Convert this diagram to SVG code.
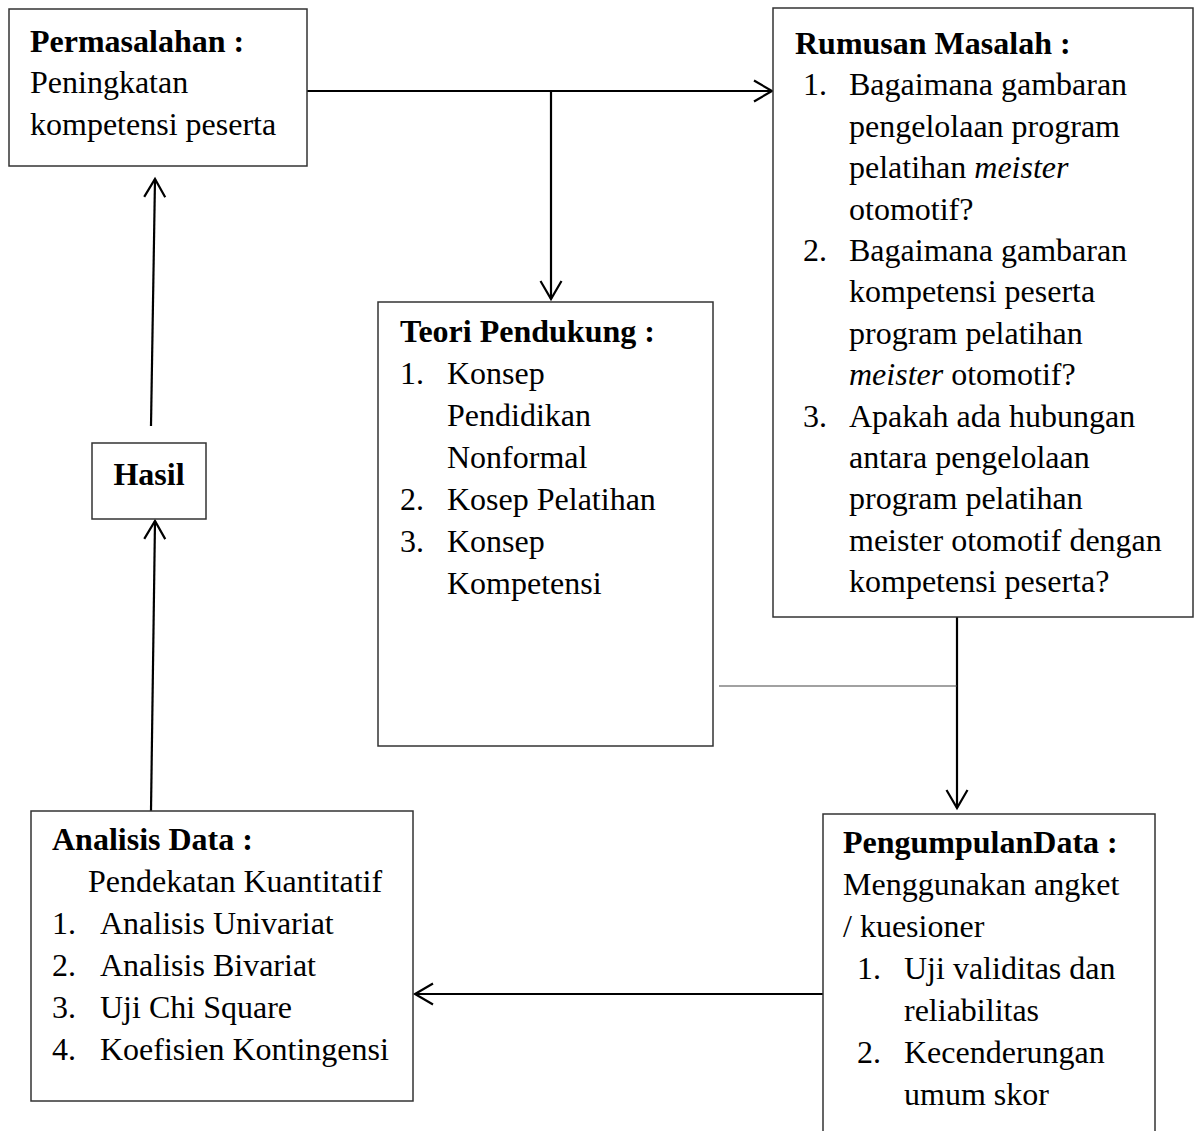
<svg xmlns="http://www.w3.org/2000/svg" width="1197" height="1131" viewBox="0 0 1197 1131">
<defs>
<style>
.box{fill:#fff;stroke:#333;stroke-width:1.5}
text{font-family:"Liberation Serif","Times New Roman",serif;font-size:32px;fill:#000}
.b{font-weight:bold}
.i{font-style:italic}
.c{fill:none;stroke:#000;stroke-width:2.2}
.thin{fill:none;stroke:#444;stroke-width:1.2}
</style>
<marker id="ah" markerUnits="userSpaceOnUse" markerWidth="24" markerHeight="24" viewBox="0 0 24 24" refX="20" refY="12" orient="auto">
<path d="M2,1.5 L20,12 L2,22.5" fill="none" stroke="#000" stroke-width="2.2"/>
</marker>
</defs>
<rect width="1197" height="1131" fill="#fff"/>
<g id="connectors">
<line class="c" x1="307" y1="91" x2="772" y2="91" marker-end="url(#ah)"/>
<line class="c" x1="551" y1="91" x2="551" y2="299" marker-end="url(#ah)"/>
<line class="c" x1="151" y1="426" x2="155" y2="179" marker-end="url(#ah)"/>
<line class="c" x1="151" y1="811" x2="155" y2="521" marker-end="url(#ah)"/>
<line class="c" x1="957" y1="617" x2="957" y2="808" marker-end="url(#ah)"/>
<line class="thin" x1="719" y1="686" x2="957" y2="686"/>
<line class="c" x1="823" y1="994" x2="415" y2="994" marker-end="url(#ah)"/>
</g>
<g id="permasalahan">
<rect class="box" x="9" y="9" width="298" height="157"/>
<text x="30" y="52" class="b">Permasalahan :</text>
<text x="30" y="93">Peningkatan</text>
<text x="30" y="135">kompetensi peserta</text>
</g>
<g id="rumusan">
<rect class="box" x="773" y="8" width="420" height="609"/>
<text x="795" y="54" class="b">Rumusan Masalah :</text>
<text x="803" y="95">1.</text>
<text x="849" y="95">Bagaimana gambaran</text>
<text x="849" y="137">pengelolaan program</text>
<text x="849" y="178">pelatihan <tspan class="i">meister</tspan></text>
<text x="849" y="220">otomotif?</text>
<text x="803" y="261">2.</text>
<text x="849" y="261">Bagaimana gambaran</text>
<text x="849" y="302">kompetensi peserta</text>
<text x="849" y="344">program pelatihan</text>
<text x="849" y="385"><tspan class="i">meister</tspan> otomotif?</text>
<text x="803" y="427">3.</text>
<text x="849" y="427">Apakah ada hubungan</text>
<text x="849" y="468">antara pengelolaan</text>
<text x="849" y="509">program pelatihan</text>
<text x="849" y="551">meister otomotif dengan</text>
<text x="849" y="592">kompetensi peserta?</text>
</g>
<g id="teori">
<rect class="box" x="378" y="302" width="335" height="444"/>
<text x="400" y="342" class="b">Teori Pendukung :</text>
<text x="400" y="384">1.</text>
<text x="447" y="384">Konsep</text>
<text x="447" y="426">Pendidikan</text>
<text x="447" y="468">Nonformal</text>
<text x="400" y="510">2.</text>
<text x="447" y="510">Kosep Pelatihan</text>
<text x="400" y="552">3.</text>
<text x="447" y="552">Konsep</text>
<text x="447" y="594">Kompetensi</text>
</g>
<g id="hasil">
<rect class="box" x="92" y="443" width="114" height="76"/>
<text x="149" y="485" class="b" text-anchor="middle">Hasil</text>
</g>
<g id="analisis">
<rect class="box" x="31" y="811" width="382" height="290"/>
<text x="52" y="850" class="b">Analisis Data :</text>
<text x="88" y="892">Pendekatan Kuantitatif</text>
<text x="52" y="934">1.</text>
<text x="100" y="934">Analisis Univariat</text>
<text x="52" y="976">2.</text>
<text x="100" y="976">Analisis Bivariat</text>
<text x="52" y="1018">3.</text>
<text x="100" y="1018">Uji Chi Square</text>
<text x="52" y="1060">4.</text>
<text x="100" y="1060">Koefisien Kontingensi</text>
</g>
<g id="pengumpulan">
<rect class="box" x="823" y="814" width="332" height="340"/>
<text x="843" y="853" class="b">PengumpulanData :</text>
<text x="843" y="895">Menggunakan angket</text>
<text x="843" y="937">/ kuesioner</text>
<text x="857" y="979">1.</text>
<text x="904" y="979">Uji validitas dan</text>
<text x="904" y="1021">reliabilitas</text>
<text x="857" y="1063">2.</text>
<text x="904" y="1063">Kecenderungan</text>
<text x="904" y="1105">umum skor</text>
</g>
</svg>
